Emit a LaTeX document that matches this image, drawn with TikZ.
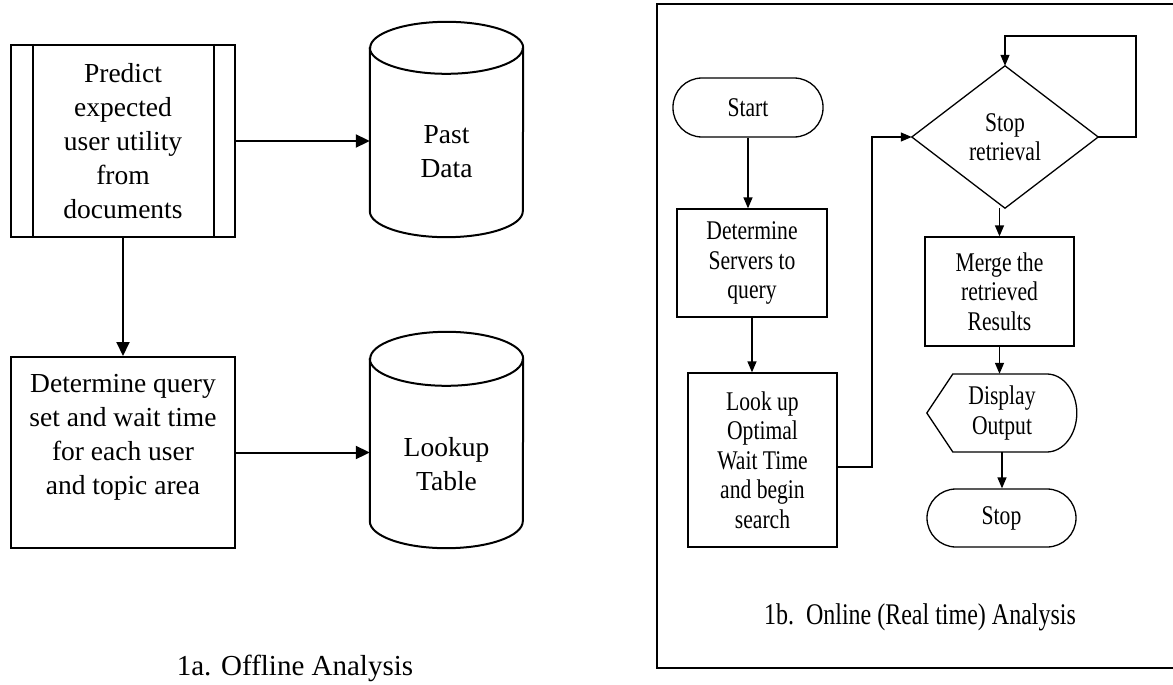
\documentclass[tikz,border=0pt]{standalone}
\usepackage{fontspec}
\setmainfont{Liberation Serif}
\newfontfamily\rfont[FakeStretch=0.8]{Liberation Serif}
\usetikzlibrary{arrows.meta}
\tikzset{
  lt/.style={font=\fontsize{27.5}{34}\selectfont, align=center, inner sep=0pt},
  rt/.style={font=\rfont\fontsize{27}{29.5}\selectfont, align=center, inner sep=0pt},
  lbox/.style={draw, line width=2pt, rectangle, inner sep=0pt, lt},
  rbox/.style={draw, line width=1.3pt, rectangle, inner sep=0pt, rt},
  ghost/.style={rectangle, inner sep=0pt},
  term/.style={rbox, rounded corners=29pt},
  larr/.style={line width=2pt, -{Triangle[length=14pt,width=13pt]}},
  rarr/.style={line width=1.3pt, -{Triangle[length=11pt,width=9pt]}},
  rline/.style={line width=1.3pt},
}
\begin{document}
\begin{tikzpicture}[x=1pt,y=-1pt]
\useasboundingbox (0,0) rectangle (1173,685);
% ---------- left panel ----------
\node[lbox, minimum width=224pt, minimum height=192pt] (pred) at (123,141)
  {Predict\\expected\\user utility\\from\\documents};
\draw[line width=2pt] ([xshift=23pt]pred.north west) -- ([xshift=23pt]pred.south west);
\draw[line width=2pt] ([xshift=-22pt]pred.north east) -- ([xshift=-22pt]pred.south east);

\node[ghost, minimum width=153pt, minimum height=215pt] (past) at (446.5,129.5) {};
\draw[line width=2pt] ([yshift=-26pt]past.north west) -- ([yshift=26pt]past.south west)
  arc[start angle=180, end angle=360, x radius=76.5pt, y radius=26pt]
  -- ([yshift=-26pt]past.north east)
  arc[start angle=0, end angle=180, x radius=76.5pt, y radius=26pt] -- cycle;
\draw[line width=2pt] ([yshift=-26pt]past.north west)
  arc[start angle=180, end angle=360, x radius=76.5pt, y radius=26pt];
\node[lt] (pastt) at (446.5,152) {Past\\Data};

\node[lbox, minimum width=224pt, minimum height=191pt] (det) at (123,452.5) {};
\node[lt] (dett) at (123,437) {Determine query\\set and wait time\\for each user\\and topic area};

\node[ghost, minimum width=153pt, minimum height=216pt] (look2) at (446.5,440) {};
\draw[line width=2pt] ([yshift=-27pt]look2.north west) -- ([yshift=27pt]look2.south west)
  arc[start angle=180, end angle=360, x radius=76.5pt, y radius=27pt]
  -- ([yshift=-27pt]look2.north east)
  arc[start angle=0, end angle=180, x radius=76.5pt, y radius=27pt] -- cycle;
\draw[line width=2pt] ([yshift=-27pt]look2.north west)
  arc[start angle=180, end angle=360, x radius=76.5pt, y radius=27pt];
\node[lt] (look2t) at (446.5,464) {Lookup\\Table};

\draw[larr] (pred.east) -- (pred.east -| past.west);
\draw[larr] (pred.south) -- (det.north);
\draw[larr] (det.east) -- (det.east -| look2.west);

\node[font=\fontsize{29}{34}\selectfont, inner sep=0pt] (capa) at (295,668) {1a. Offline Analysis};

% ---------- right panel ----------
\draw[line width=1.5pt] (1180,4) -- (657,4) -- (657,668) -- (1180,668);

\node[term, minimum width=150pt, minimum height=59pt] (start) at (748,107.5) {Start};
\node[rbox, minimum width=150pt, minimum height=108pt] (dserv) at (752,263)
  {Determine\\Servers to\\query};
\node[rbox, minimum width=149pt, minimum height=174pt] (look) at (762.5,460)
  {Look up\\Optimal\\Wait Time\\and begin\\search};
\node[ghost, minimum width=186pt, minimum height=142pt, rt] (stopr) at (1005,137)
  {Stop\\retrieval};
\draw[rline] (stopr.west) -- (stopr.north) -- (stopr.east) -- (stopr.south) -- cycle;
\node[rbox, minimum width=149pt, minimum height=109pt] (merge) at (999.5,291.5)
  {Merge the\\retrieved\\Results};
\node[ghost, minimum width=150pt, minimum height=78pt, rt] (disp) at (1002,413)
  {Display\\Output};
\draw[rline] (disp.west) -- ++(26pt,39pt) -- ++(94pt,0pt)
  arc[start angle=90, end angle=-90, x radius=30pt, y radius=39pt]
  -- ++(-94pt,0pt) -- cycle;
\node[term, minimum width=149pt, minimum height=58pt] (stop) at (1001.5,518) {Stop};

\coordinate (bend) at (872,137);
\coordinate (loopa) at (1136,137);
\coordinate (loopb) at (1136,36);
\coordinate (loopc) at (1005,36);

\draw[rarr] (start.south) -- (start.south |- dserv.north);
\draw[rarr] (dserv.south) -- (dserv.south |- look.north);
\draw[rarr] ([yshift=-7pt]look.east) -| (bend) -- (stopr.west);
\draw[rarr] (stopr.east) -- (loopa) -- (loopb) -- (loopc) -- (stopr.north);
\draw[rarr] (merge.north |- stopr.south) -- (merge.north);
\draw[rarr] (merge.south) -- (merge.south |- disp.north);
\draw[rarr] (disp.south) -- (disp.south |- stop.north);

\node[font=\rfont\fontsize{30}{34}\selectfont, inner sep=0pt] (capb) at (920,617)
  {1b.\ \ Online (Real time) Analysis};
\end{tikzpicture}
\end{document}
